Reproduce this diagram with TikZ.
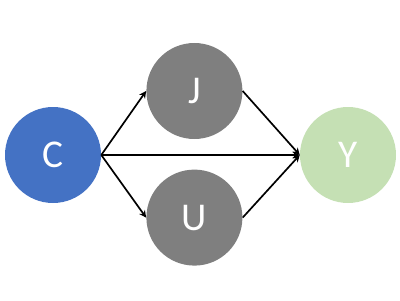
\documentclass[tikz,border=0pt]{standalone}
\usepackage{fontspec}
\setmainfont{Carlito}
\usetikzlibrary{arrows.meta}
\definecolor{cblue}{HTML}{4472C4}
\definecolor{mgray}{HTML}{7F7F7F}
\definecolor{lgreen}{HTML}{C5E0B4}

\begin{document}
\begin{tikzpicture}[font=\fontsize{28}{33}\selectfont,
var/.style={circle,inner sep=0pt,minimum size=2.4cm,text=white},
arr/.style={-{Stealth[length=5pt,width=5pt]},line width=1.2pt}]
\useasboundingbox(0,0)rectangle(10,7.5);
\node[var,fill=cblue](c)at(1.325,3.625){C};
\node[var,fill=mgray](j)at(4.86,5.225){J};
\node[var,fill=mgray](u)at(4.86,2.06){U};
\node[var,fill=lgreen](y)at(8.7,3.625){Y};
\draw[arr](c.east)--(j.west);
\draw[arr](c.east)--(u.west);
\draw[arr](c.east)--(y.west);
\draw[arr](j.east)--(y.west);
\draw[arr](u.east)--(y.west);
\end{tikzpicture}
\end{document}
